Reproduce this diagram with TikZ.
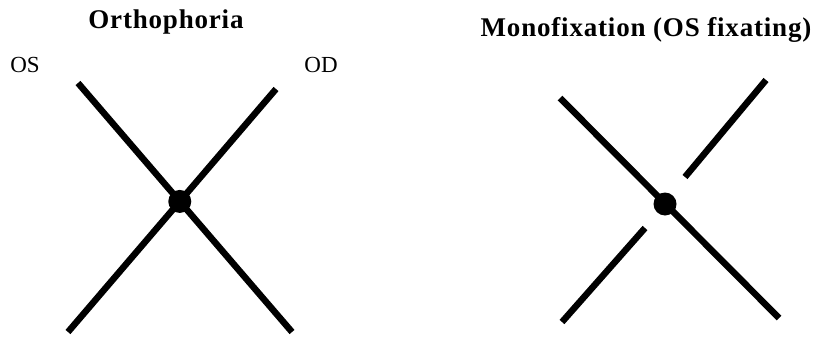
\documentclass[tikz,border=0pt]{standalone}
\usepackage{fontspec}
\setmainfont{Liberation Serif}
\newfontfamily\titleFont[LetterSpace=3]{Liberation Serif}

\begin{document}
\begin{tikzpicture}[x=1pt, y=-1pt]
    % Define sizes
    \def\lineWidth{6.5pt}
    \def\dotRadius{11.5}

    \definecolor{lineColour}{HTML}{000000}

    \tikzset{
        eyeLine/.style={draw=lineColour, line width=\lineWidth},
        fixDot/.style={circle, fill=lineColour, inner sep=0pt, minimum size=2*\dotRadius pt},
        titleText/.style={anchor=base, font=\titleFont\bfseries\fontsize{27}{31}\selectfont},
        eyeText/.style={anchor=base, font=\fontsize{23}{27}\selectfont}
    }

    % Fix the page size
    \useasboundingbox (0,0) rectangle (816,337);

    % Orthophoria
    \node[titleText] (orthoTitle) at (166,29) {Orthophoria};
    \node[eyeText] (osLabel) at (25,72) {OS};
    \node[eyeText] (odLabel) at (321,72) {OD};

    \coordinate (OSTop) at (78,83);
    \coordinate (OSBottom) at (292,332);
    \coordinate (ODTop) at (276,89);
    \coordinate (ODBottom) at (68,332);

    \draw[eyeLine] (OSTop) -- (OSBottom);
    \draw[eyeLine] (ODTop) -- (ODBottom);
    \node[fixDot] (orthoDot) at (intersection of OSTop--OSBottom and ODTop--ODBottom) {};

    % Monofixation
    \node[titleText] (monoTitle) at (646,37) {Monofixation (OS fixating)};

    \coordinate (FixTop) at (560,98);
    \coordinate (FixBottom) at (779,318);
    \coordinate (DevTop) at (766,80);
    \coordinate (DevInner) at (685,177);
    \coordinate (DevLower) at (645,228);
    \coordinate (DevBottom) at (562,322);

    \draw[eyeLine] (FixTop) -- (FixBottom);
    \draw[eyeLine] (DevTop) -- (DevInner);
    \draw[eyeLine] (DevLower) -- (DevBottom);
    \node[fixDot] (monoDot) at (665,204) {};
\end{tikzpicture}
\end{document}
